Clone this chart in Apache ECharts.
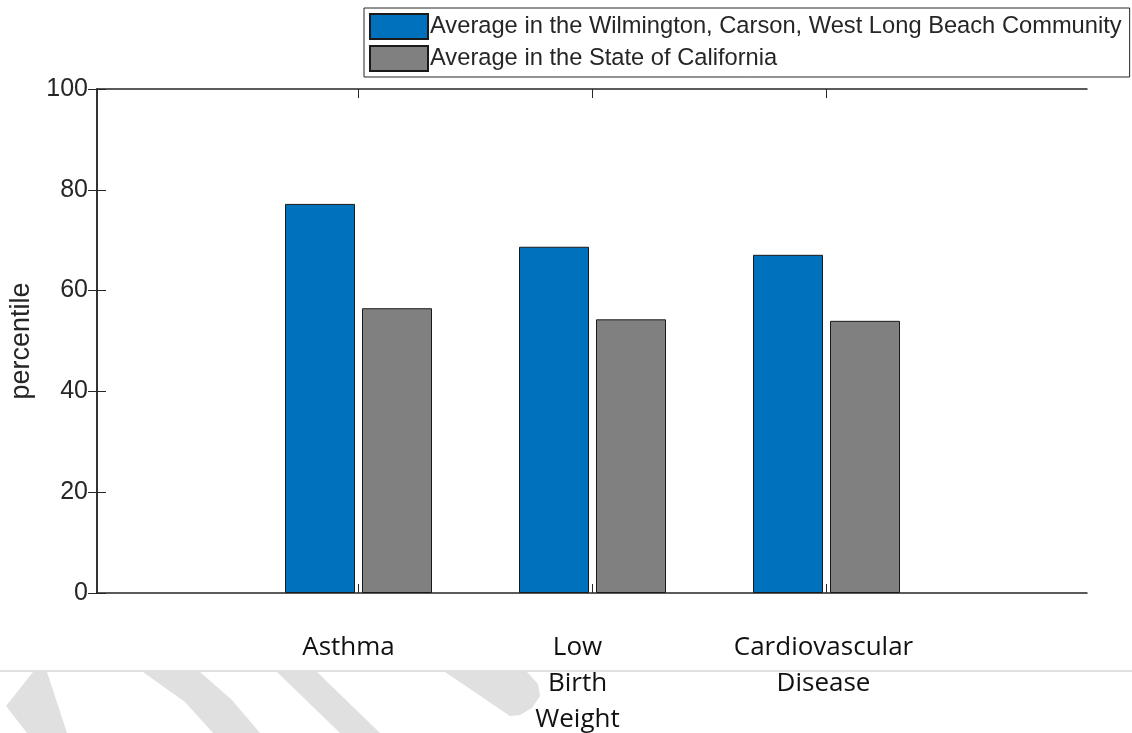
<!DOCTYPE html>
<html>
<head>
<meta charset="utf-8">
<script src="https://cdn.jsdelivr.net/npm/echarts@6/dist/echarts.min.js"></script>
<style>
  html, body { margin: 0; padding: 0; background: #ffffff; }
  #main { width: 1132px; height: 733px; }
</style>
</head>
<body>
<div id="main"></div>
<script>
var categories = ['Asthma', 'Low\nBirth\nWeight', 'Cardiovascular\nDisease'];
var seriesNames = ['Average in the Wilmington, Carson, West Long Beach Community', 'Average in the State of California'];
var communityValues = [77.2, 68.7, 67.1];
var stateValues = [56.5, 54.3, 54.0];
var yTicks = [0, 20, 40, 60, 80, 100];

var chartDom = document.getElementById('main');
var chart = echarts.init(chartDom);

var axisColor = '#262626';
var stripe = '#e0e0e0';

// the category captions sit a little left of the bar groups in the original
var labelPad = [20, 30, 6];
var labelRich = {};
labelPad.forEach(function (p, i) {
    labelRich['c' + i] = {
        fontFamily: 'Open Sans',
        fontSize: 26,
        lineHeight: 36,
        color: '#111111',
        padding: [0, p, 0, 0]
    };
});

var option = {
    animation: false,
    backgroundColor: '#ffffff',
    legend: {
        orient: 'vertical',
        left: 364,
        top: 8,
        icon: 'rect',
        itemWidth: 58,
        itemHeight: 25,
        itemGap: 5,
        padding: [5, 8, 5, 5],
        borderColor: axisColor,
        borderWidth: 1,
        textStyle: {
            fontFamily: 'Liberation Sans',
            fontSize: 23.7,
            color: axisColor,
            padding: [0, 0, 0, -3]
        },
        data: seriesNames
    },
    grid: [
        { left: 97, right: 45, top: 89, bottom: 140, outerBoundsMode: 'none' },
        { left: 241.5, right: 188.5, top: 89, bottom: 140, outerBoundsMode: 'none' }
    ],
    xAxis: [
        {
            gridIndex: 0, type: 'value', min: 0, max: 1, position: 'bottom',
            axisLine: { show: true, onZero: false, lineStyle: { color: axisColor, width: 1.5 } },
            axisTick: { show: false }, axisLabel: { show: false }, splitLine: { show: false }
        },
        {
            gridIndex: 0, type: 'value', min: 0, max: 1, position: 'top',
            axisLine: { show: true, onZero: false, lineStyle: { color: axisColor, width: 1.5 } },
            axisTick: { show: false }, axisLabel: { show: false }, splitLine: { show: false }
        },
        {
            gridIndex: 1, type: 'category', data: categories, position: 'bottom',
            axisLine: { show: false },
            axisTick: { show: true, inside: true, alignWithLabel: true, length: 9, lineStyle: { color: axisColor } },
            axisLabel: {
                margin: 37,
                interval: 0,
                formatter: function (value, idx) {
                    return value.split('\n').map(function (line) {
                        return '{c' + idx + '|' + line + '}';
                    }).join('\n');
                },
                rich: labelRich
            },
            splitLine: { show: false }
        },
        {
            gridIndex: 1, type: 'category', data: categories, position: 'top',
            axisLine: { show: false },
            axisTick: { show: true, inside: true, alignWithLabel: true, length: 9, lineStyle: { color: axisColor } },
            axisLabel: { show: false },
            splitLine: { show: false }
        }
    ],
    yAxis: [
        {
            gridIndex: 0, type: 'value', min: yTicks[0], max: yTicks[yTicks.length - 1], interval: 20,
            position: 'left',
            name: 'percentile',
            nameLocation: 'middle',
            nameGap: 55,
            nameTextStyle: { fontFamily: 'Liberation Sans', fontSize: 27, color: axisColor },
            axisLine: { show: true, lineStyle: { color: axisColor, width: 1.5 } },
            axisTick: { show: true, inside: true, length: 9, lineStyle: { color: axisColor } },
            axisLabel: { margin: 9, fontFamily: 'Liberation Sans', fontSize: 25, color: axisColor },
            splitLine: { show: false }
        },
        {
            gridIndex: 0, type: 'value', min: yTicks[0], max: yTicks[yTicks.length - 1], interval: 20,
            position: 'right',
            axisLine: { show: true, lineStyle: { color: axisColor, width: 1.5 } },
            axisTick: { show: true, inside: true, length: 9, lineStyle: { color: axisColor } },
            axisLabel: { show: false },
            splitLine: { show: false }
        },
        {
            gridIndex: 1, type: 'value', min: 0, max: 100,
            show: false, splitLine: { show: false }
        }
    ],
    series: [
        {
            name: seriesNames[0],
            type: 'bar',
            xAxisIndex: 2,
            yAxisIndex: 2,
            barWidth: 70,
            barGap: '10%',
            itemStyle: { color: '#0072bd', borderColor: '#1a1a1a', borderWidth: 1 },
            data: communityValues
        },
        {
            name: seriesNames[1],
            type: 'bar',
            xAxisIndex: 2,
            yAxisIndex: 2,
            barWidth: 70,
            barGap: '10%',
            itemStyle: { color: '#808080', borderColor: '#1a1a1a', borderWidth: 1 },
            data: stateValues
        }
    ],
    graphic: [
        {
            type: 'line', silent: true, z: -1,
            shape: { x1: 0, y1: 671, x2: 1132, y2: 671 },
            style: { stroke: '#c0c0c0', lineWidth: 1 }
        },
        {
            type: 'polygon', silent: true, z: -2,
            shape: { points: [[6, 706], [33, 672], [47, 672], [67, 733], [27, 733]] },
            style: { fill: stripe }
        },
        {
            type: 'polygon', silent: true, z: -2,
            shape: { points: [[143, 672], [200, 672], [232, 700], [260, 733], [213, 733], [185, 702]] },
            style: { fill: stripe }
        },
        {
            type: 'polygon', silent: true, z: -2,
            shape: { points: [[277, 672], [317, 672], [380, 733], [340, 733]] },
            style: { fill: stripe }
        },
        {
            type: 'polygon', silent: true, z: -2,
            shape: { points: [[445, 672], [527, 672], [538, 684], [540, 696], [532, 708], [520, 715], [510, 716]] },
            style: { fill: stripe }
        }
    ]
};

chart.setOption(option);
</script>
</body>
</html>
